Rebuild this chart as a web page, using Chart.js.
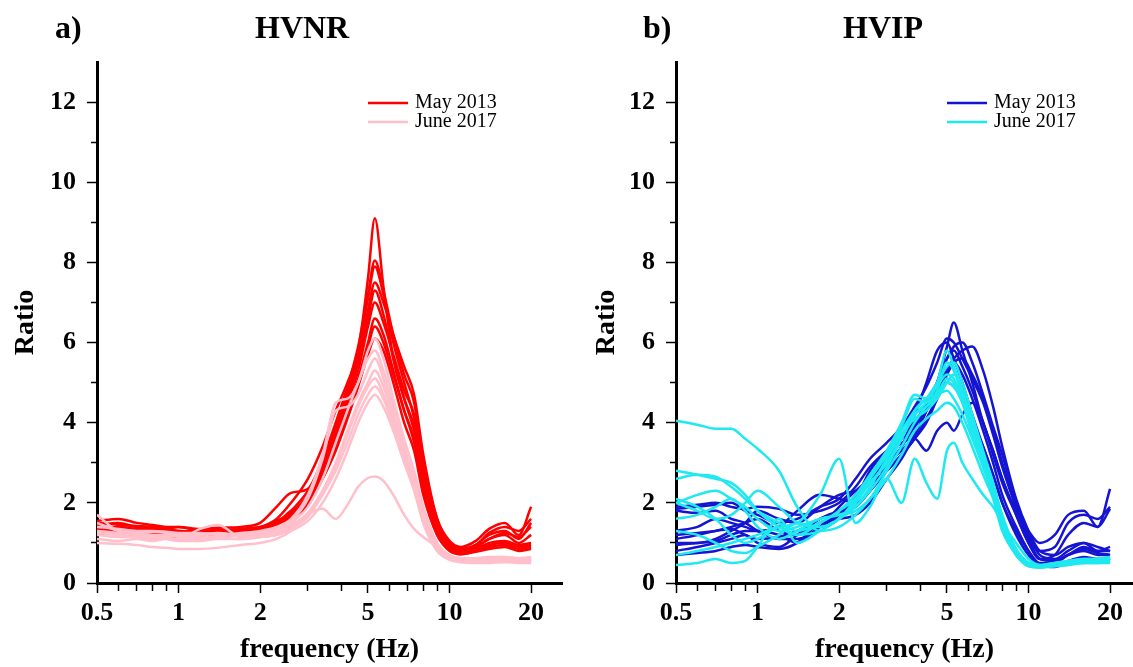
<!DOCTYPE html>
<html>
<head>
<meta charset="utf-8">
<script src="https://cdn.jsdelivr.net/npm/chart.js@4/dist/chart.umd.min.js"></script>
<style>
  body { margin: 0; background: #fff; width: 1133px; height: 667px; overflow: hidden; position: relative; font-family: 'Liberation Serif', 'Times New Roman', serif; }
  .panel { position: absolute; top: 0; height: 667px; }
  .lab { position: absolute; top: 11px; font-weight: bold; font-size: 32px; line-height: 32px; }
</style>
</head>
<body>
<div class="panel" style="left:0;width:566px"><canvas id="hvnr"></canvas></div>
<div class="panel" style="left:566px;width:567px"><canvas id="hvip"></canvas></div>
<div class="lab" style="left:55px">a)</div>
<div class="lab" style="left:255px">HVNR</div>
<div class="lab" style="left:643px">b)</div>
<div class="lab" style="left:843px">HVIP</div>
<script>
const FREQ = [0.5,0.6,0.7,0.8,0.9,1.0,1.2,1.4,1.7,2.0,2.3,2.6,3.0,3.4,3.8,4.2,4.6,5.0,5.3,5.7,6.2,6.8,7.4,8.0,9.0,10,11,12.5,14,16,18,20];

// tick marks / labels
const X_TICKS = [0.5,0.6,0.7,0.8,0.9,1,2,3,4,5,6,7,8,9,10,20];
const X_LABELS = [0.5,1,2,5,10,20];
const Y_TICKS = [0,1,2,3,4,5,6,7,8,9,10,11,12];
const LEGEND = ['May 2013', 'June 2017'];

// HVNR, May 2013
const NR_MAY = [
  [1.45,1.5,1.4,1.38,1.35,1.3,1.28,1.3,1.35,1.4,1.6,2.0,2.6,3.4,4.3,5.0,5.8,7.6,9.1,7.4,5.6,4.6,3.8,2.7,1.5,1.0,0.85,0.95,1.2,1.3,1.1,1.5],
  [1.55,1.6,1.5,1.45,1.4,1.4,1.35,1.38,1.4,1.5,1.9,2.25,2.35,3.1,4.0,4.9,5.9,7.2,8.05,7.3,6.2,5.2,4.5,3.0,1.6,1.05,0.9,1.05,1.35,1.5,1.2,1.9],
  [1.3,1.35,1.3,1.25,1.25,1.2,1.22,1.25,1.3,1.35,1.5,1.8,2.3,3.0,3.9,4.8,5.8,7.1,7.9,7.2,6.0,5.0,4.1,2.8,1.4,0.95,0.8,0.9,1.1,1.2,1.0,1.2],
  [1.5,1.45,1.42,1.4,1.35,1.4,1.3,1.32,1.3,1.38,1.55,1.75,2.2,2.9,3.8,4.7,5.6,6.8,7.5,7.0,6.2,5.4,4.7,3.2,1.6,1.0,0.85,0.95,1.25,1.4,1.3,1.6],
  [1.2,1.3,1.25,1.3,1.2,1.25,1.3,1.25,1.3,1.3,1.45,1.7,2.1,2.8,3.7,4.6,5.5,6.6,7.3,6.7,5.6,4.6,3.9,2.6,1.3,0.9,0.75,0.85,1.0,1.05,0.95,1.0],
  [1.35,1.4,1.35,1.3,1.32,1.28,1.25,1.3,1.28,1.35,1.5,1.8,2.0,2.7,3.6,4.5,5.3,6.4,7.0,6.5,5.7,4.8,4.2,2.9,1.5,0.95,0.8,0.9,1.1,1.25,1.15,1.4],
  [1.25,1.3,1.28,1.25,1.2,1.22,1.2,1.25,1.25,1.3,1.4,1.65,2.0,2.7,3.5,4.3,5.1,6.0,6.6,6.2,5.3,4.3,3.6,2.4,1.3,0.85,0.75,0.8,0.95,1.0,0.9,0.95],
  [1.4,1.38,1.35,1.35,1.3,1.3,1.28,1.32,1.35,1.4,1.5,1.7,2.0,2.6,3.4,4.2,5.0,5.9,6.4,6.0,5.2,4.3,3.5,2.3,1.2,0.85,0.72,0.8,0.9,0.95,0.85,0.9],
  [1.3,1.25,1.2,1.2,1.18,1.15,1.2,1.2,1.25,1.28,1.4,1.6,1.95,2.6,3.3,4.1,4.9,5.7,6.1,5.8,5.0,4.0,3.3,2.2,1.2,0.8,0.72,0.78,0.85,0.9,0.8,0.85]
];

// HVNR, June 2017
const NR_JUNE = [
  [1.4,1.35,1.3,1.3,1.28,1.25,1.25,1.2,1.25,1.3,1.4,1.6,2.2,3.2,4.5,4.6,5.0,5.8,6.1,5.6,4.6,3.6,2.8,1.9,1.0,0.7,0.62,0.62,0.65,0.65,0.62,0.65],
  [1.3,1.25,1.2,1.2,1.15,1.2,1.18,1.15,1.2,1.25,1.35,1.55,2.1,3.1,4.3,4.4,4.7,5.3,5.6,5.1,4.2,3.3,2.6,1.8,0.95,0.65,0.6,0.58,0.6,0.6,0.58,0.6],
  [1.2,1.15,1.15,1.1,1.12,1.1,1.1,1.12,1.1,1.15,1.25,1.4,1.7,2.3,3.0,3.8,4.5,5.0,5.3,4.9,4.1,3.3,2.6,1.7,0.9,0.62,0.55,0.55,0.55,0.56,0.55,0.55],
  [1.5,1.3,1.25,1.28,1.25,1.2,1.22,1.25,1.2,1.22,1.3,1.45,1.75,2.3,2.9,3.7,4.4,4.9,5.1,4.7,4.0,3.2,2.5,1.6,0.85,0.6,0.55,0.52,0.55,0.55,0.52,0.55],
  [1.1,1.05,1.1,1.05,1.1,1.1,1.35,1.45,1.15,1.15,1.2,1.35,1.65,2.2,2.8,3.5,4.2,4.7,4.9,4.6,3.9,3.1,2.4,1.5,0.8,0.58,0.52,0.5,0.5,0.52,0.5,0.5],
  [1.25,1.2,1.15,1.15,1.1,1.05,1.05,1.1,1.1,1.15,1.2,1.3,1.55,2.0,2.6,3.3,4.0,4.5,4.7,4.4,3.8,3.0,2.3,1.5,0.8,0.6,0.55,0.55,0.6,0.6,0.58,0.62],
  [1.0,0.98,0.95,0.9,0.88,0.85,0.85,0.88,0.95,1.0,1.1,1.3,1.7,1.85,1.6,1.95,2.4,2.62,2.66,2.55,2.2,1.7,1.35,1.15,0.9,0.65,0.58,0.55,0.55,0.55,0.55,0.55],
  [1.7,1.3,1.25,1.2,1.2,1.15,1.15,1.15,1.2,1.2,1.3,1.5,1.9,2.6,3.5,4.3,5.0,5.6,5.8,5.3,4.4,3.4,2.6,1.8,0.95,0.65,0.58,0.6,0.62,0.6,0.6,0.62]
];

// HVIP, May 2013
const IP_MAY = [
  [1.9,1.95,2.0,1.9,1.85,1.9,1.85,1.7,1.8,2.0,2.4,2.9,3.3,3.6,4.0,4.4,5.0,5.9,6.5,5.8,5.0,4.0,3.3,2.6,1.8,1.3,1.0,1.2,1.7,1.8,1.4,2.35],
  [1.85,1.9,1.95,2.0,1.8,1.7,1.5,1.6,1.9,2.1,2.6,3.1,3.5,3.9,4.4,4.9,5.5,6.1,6.0,5.6,5.1,4.5,3.7,2.9,1.9,1.2,0.8,0.9,1.5,1.7,1.6,1.9],
  [1.1,1.2,1.3,1.4,1.5,1.6,1.3,1.2,1.5,1.7,2.1,2.8,3.3,3.6,4.0,4.5,5.0,5.6,5.9,6.0,5.5,4.7,3.9,3.2,2.0,1.2,0.7,0.6,0.8,1.0,0.8,0.9],
  [0.95,1.0,1.05,1.2,1.3,1.3,1.2,1.0,1.4,1.7,2.2,2.6,2.9,3.4,4.2,5.0,5.8,6.0,5.6,5.0,4.2,3.4,2.7,2.0,1.3,0.8,0.5,0.5,0.7,0.9,0.8,0.8],
  [0.8,0.9,1.0,1.1,1.2,1.0,0.9,1.2,1.6,1.8,1.9,2.3,2.9,3.4,3.9,4.3,4.8,5.3,5.6,5.8,5.9,5.3,4.4,3.4,2.1,1.3,0.8,0.7,0.9,1.0,0.9,0.8],
  [1.2,1.25,1.3,1.35,1.2,1.1,1.15,1.3,1.6,1.8,2.1,2.5,3.1,3.5,3.6,3.3,3.8,4.0,3.8,4.2,4.5,4.0,3.2,2.5,1.7,1.0,0.6,0.55,0.7,0.8,0.7,0.7],
  [0.7,0.75,0.8,0.9,0.95,0.9,0.85,1.0,1.5,1.6,1.7,2.0,2.6,3.1,3.7,4.3,4.9,5.3,5.5,5.2,4.6,3.8,3.0,2.2,1.4,0.8,0.45,0.4,0.5,0.6,0.55,0.6],
  [1.8,1.75,1.8,1.6,1.5,1.3,1.1,1.1,1.4,1.9,2.3,2.6,3.0,3.3,3.7,4.3,5.0,5.6,5.8,5.4,4.8,4.0,3.3,2.6,1.7,1.0,0.6,0.7,1.2,1.5,1.4,1.85],
  [1.0,1.0,1.1,1.3,1.5,1.8,1.6,1.5,1.9,2.2,2.3,2.5,2.8,3.2,3.6,4.1,4.6,5.0,4.9,4.6,4.0,3.4,2.7,2.0,1.2,0.7,0.45,0.45,0.55,0.65,0.6,0.6],
  [1.3,1.4,1.6,1.5,1.4,1.3,1.4,1.8,2.2,2.1,2.0,2.3,2.8,3.2,3.6,4.0,4.6,5.2,5.5,5.6,5.2,4.6,3.8,3.0,1.9,1.1,0.6,0.55,0.7,0.85,0.75,0.7]
];

// HVIP, June 2017
const IP_JUNE = [
  [4.05,3.95,3.85,3.85,3.6,3.35,2.8,1.9,1.3,1.4,1.7,2.1,2.8,3.4,4.0,4.4,4.6,5.0,5.2,4.8,4.0,3.2,2.5,1.6,0.8,0.5,0.42,0.45,0.5,0.55,0.55,0.6],
  [2.8,2.7,2.6,2.5,2.2,1.8,1.4,1.2,1.3,1.6,2.0,2.6,3.3,4.0,4.7,4.6,5.0,5.8,5.4,4.8,4.0,3.2,2.4,1.6,0.8,0.45,0.4,0.45,0.5,0.55,0.6,0.65],
  [2.6,2.7,2.65,2.4,2.1,1.8,1.5,1.3,1.5,1.8,2.1,2.5,3.0,3.6,4.2,4.5,4.9,5.2,5.1,4.6,3.8,3.0,2.3,1.5,0.8,0.5,0.45,0.5,0.55,0.6,0.6,0.65],
  [2.1,1.9,1.6,1.2,1.0,1.1,1.4,1.5,2.2,3.1,1.5,1.9,2.6,2.0,3.1,2.5,2.1,3.3,3.5,3.0,2.6,2.2,1.9,1.5,1.0,0.6,0.45,0.5,0.55,0.6,0.6,0.6],
  [2.0,2.2,2.3,2.1,1.9,1.6,1.3,1.4,1.6,1.7,1.9,2.3,2.9,3.6,4.3,4.6,4.7,4.8,4.6,4.2,3.6,2.9,2.2,1.4,0.7,0.45,0.4,0.45,0.5,0.5,0.55,0.55],
  [0.7,0.8,0.9,1.0,1.1,1.2,1.4,1.2,1.5,1.8,2.2,2.7,3.3,3.9,4.6,4.5,4.8,5.5,5.3,4.7,3.9,3.1,2.4,1.6,0.8,0.45,0.4,0.45,0.5,0.55,0.6,0.6],
  [0.45,0.5,0.6,0.5,0.55,0.9,1.6,1.0,1.3,1.6,1.9,2.4,3.1,3.7,4.1,4.3,4.6,5.0,4.9,4.5,3.8,3.0,2.3,1.5,0.75,0.45,0.4,0.42,0.45,0.5,0.5,0.55],
  [2.0,1.8,1.6,1.7,2.0,2.3,1.9,1.5,1.4,1.6,2.0,2.5,3.0,3.6,4.2,4.4,4.7,5.1,5.0,4.5,3.7,2.9,2.2,1.4,0.7,0.42,0.38,0.42,0.45,0.5,0.5,0.5],
  [1.6,1.7,1.9,2.1,1.8,1.4,1.1,1.3,1.6,1.7,1.8,2.1,2.6,3.2,3.8,4.1,4.3,4.5,4.4,4.0,3.4,2.7,2.1,1.3,0.7,0.42,0.4,0.45,0.5,0.52,0.55,0.6],
  [1.3,1.2,1.0,0.8,0.75,0.9,1.2,1.5,1.4,1.6,2.1,2.6,3.2,3.8,4.3,4.6,5.0,5.4,5.5,5.0,4.2,3.3,2.5,1.7,0.85,0.5,0.42,0.45,0.5,0.55,0.58,0.62]
];

Chart.defaults.font.family = "'Liberation Serif', 'Times New Roman', serif";
Chart.defaults.color = '#000';

// legend drawn inside the plot, two rows
const cornerLegend = {
  id: 'cornerLegend',
  afterDraw(chart, args, opts) {
    const ctx = chart.ctx;
    ctx.save();
    ctx.font = "20px 'Liberation Serif', serif";
    ctx.textBaseline = 'middle';
    opts.items.forEach((it, i) => {
      const y = opts.y + i * 19;
      ctx.strokeStyle = it.color;
      ctx.lineWidth = 2.5;
      ctx.beginPath();
      ctx.moveTo(opts.x, y);
      ctx.lineTo(opts.x + 40, y);
      ctx.stroke();
      ctx.fillStyle = '#000';
      ctx.fillText(it.text, opts.x + 47, y);
    });
    ctx.restore();
  }
};

const tickFont = {size: 26, weight: 'bold'};
const titleFont = {size: 28, weight: 'bold'};

function buildPanel(id, may, june, colMay, colJune, axisW, ratioPad, xMax, padRight, legendX) {
  const datasets = [];
  may.forEach(vals => datasets.push({
    label: LEGEND[0], borderColor: colMay, order: 2,
    data: FREQ.map((f, k) => ({x: f, y: vals[k]}))
  }));
  june.forEach(vals => datasets.push({
    label: LEGEND[1], borderColor: colJune, order: 1,
    data: FREQ.map((f, k) => ({x: f, y: vals[k]}))
  }));

  return new Chart(document.getElementById(id), {
    type: 'line',
    data: {datasets},
    options: {
      responsive: true,
      maintainAspectRatio: false,
      animation: false,
      layout: {padding: {top: 62, right: padRight, left: 0, bottom: 0}},
      elements: {
        point: {radius: 0},
        line: {borderWidth: 2.5, cubicInterpolationMode: 'monotone'}
      },
      plugins: {
        legend: {display: false},
        tooltip: {enabled: false},
        cornerLegend: {
          x: legendX, y: 103,
          items: [{text: LEGEND[0], color: colMay}, {text: LEGEND[1], color: colJune}]
        }
      },
      scales: {
        x: {
          type: 'logarithmic',
          min: 0.5,
          max: xMax,
          afterBuildTicks: s => { s.ticks = X_TICKS.map(v => ({value: v})); },
          afterFit: s => { s.height = 84; },
          ticks: {
            autoSkip: false, maxRotation: 0, padding: 5, font: tickFont,
            callback: v => X_LABELS.includes(v) ? String(v) : ''
          },
          grid: {
            drawOnChartArea: false, drawTicks: true, tickLength: 10, color: '#000', tickWidth: 1.5,
            tickBorderDash: c => X_LABELS.includes(c.tick && c.tick.value) ? [] : [6, 40]
          },
          border: {display: true, color: '#000', width: 3},
          title: {display: true, text: 'frequency (Hz)', font: titleFont, padding: {top: 0, bottom: 0}}
        },
        y: {
          min: 0,
          max: 13,
          afterBuildTicks: s => { s.ticks = Y_TICKS.map(v => ({value: v})); },
          afterFit: s => { s.width = axisW; },
          ticks: {
            padding: 11, font: tickFont,
            callback: v => v % 2 === 0 ? String(v) : ''
          },
          grid: {
            drawOnChartArea: false, drawTicks: true, tickLength: 10, color: '#000', tickWidth: 1.5,
            tickBorderDash: c => (c.tick && c.tick.value % 2 === 0) ? [] : [0, 4, 6, 40]
          },
          border: {display: true, color: '#000', width: 3},
          title: {display: true, text: 'Ratio', font: titleFont, padding: {top: ratioPad, bottom: 0}}
        }
      }
    },
    plugins: [cornerLegend]
  });
}

buildPanel('hvnr', NR_MAY, NR_JUNE, '#ff0000', '#ffc0cb', 97, 9, 26, 4, 368);
buildPanel('hvip', IP_MAY, IP_JUNE, '#1414d2', '#1ee8f0', 110, 24, 24.3, 0, 381);
</script>
</body>
</html>
